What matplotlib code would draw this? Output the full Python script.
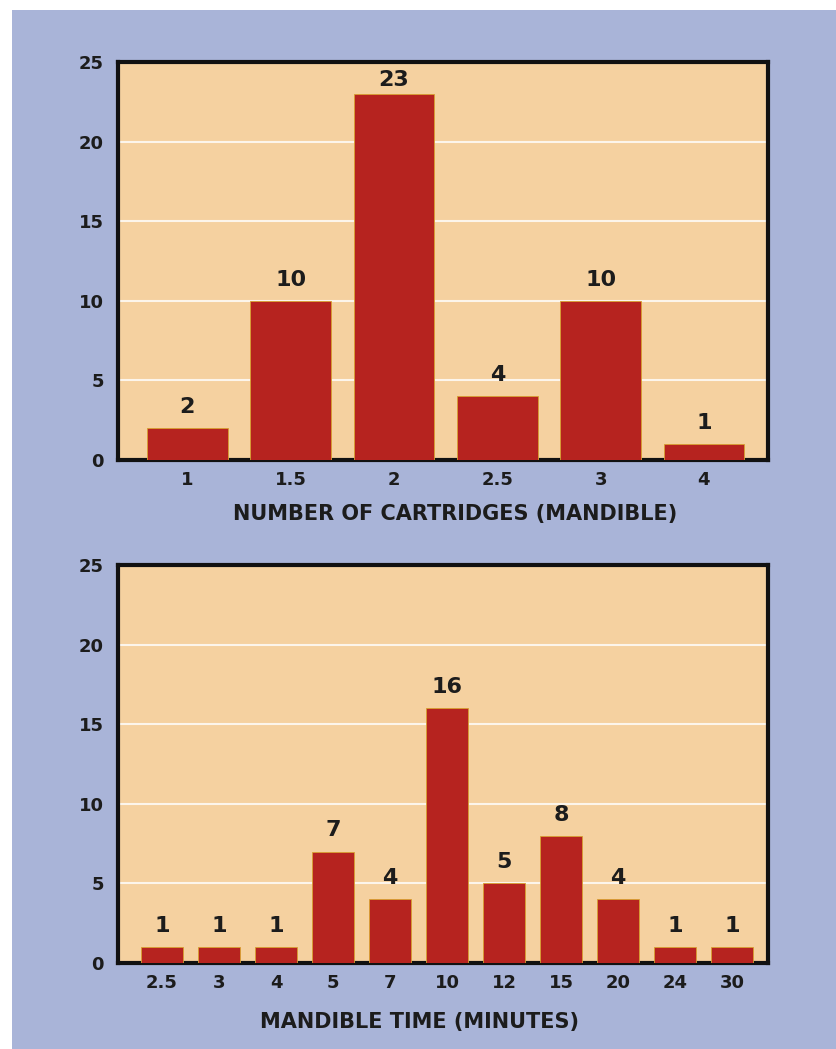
import matplotlib.pyplot as plt
from matplotlib.patches import Rectangle

# data
cart_labels = ['1', '1.5', '2', '2.5', '3', '4']
cart_counts = [2, 10, 23, 4, 10, 1]

time_labels = ['2.5', '3', '4', '5', '7', '10', '12', '15', '20', '24', '30']
time_counts = [1, 1, 1, 7, 4, 16, 5, 8, 4, 1, 1]

plt.rcParams['font.family'] = ['DejaVu Sans']
plt.rcParams['font.weight'] = 'bold'

blue = '#a9b4d8'
peach = '#f5d1a0'
bar_red = '#b6231f'
ink = '#1c1c1c'

fig = plt.figure(figsize=(8.36, 10.49), dpi=100)
fig.patch.set_facecolor('white')
# scanned page: blue background with a white margin at top and left
fig.patches.append(Rectangle((12 / 836, 0), 1, 1 - 10 / 1049, transform=fig.transFigure,
                             facecolor=blue, edgecolor='none', zorder=-10))


def bar_panel(rect, labels, counts, width, xlim, xlabel, xlabel_pos):
    ax = fig.add_axes(rect)
    ax.set_facecolor(peach)
    x = range(len(labels))
    bars = ax.bar(x, counts, width=width, color=bar_red, edgecolor='#d8a030',
                  linewidth=0.6, zorder=3)
    for b, v in zip(bars, counts):
        # the tallest label sits closer to its bar so it stays inside the frame
        off = 8 if v < 22 else 3
        ax.annotate(str(v), (b.get_x() + b.get_width() / 2, v), xytext=(0, off),
                    textcoords='offset points', ha='center', va='bottom',
                    fontsize=16, fontweight='bold', color=ink)
    ax.set_xticks(list(x))
    ax.set_xticklabels(labels)
    ax.set_xlim(*xlim)
    ax.set_ylim(0, 25)
    ax.set_yticks([0, 5, 10, 15, 20, 25])
    ax.tick_params(axis='both', length=0, labelsize=13, colors=ink)
    ax.tick_params(axis='x', pad=8)
    ax.tick_params(axis='y', pad=10)
    ax.yaxis.grid(True, color='white', linewidth=1.5, alpha=0.8, zorder=1)
    ax.set_axisbelow(True)
    for s in ax.spines.values():
        s.set_linewidth(3)
        s.set_color('#111111')
    fig.text(xlabel_pos[0], xlabel_pos[1], xlabel, ha='center', va='center',
             fontsize=15, fontweight='bold', color=ink)
    return ax


bar_panel([118 / 836, 1 - 460 / 1049, 650 / 836, 398 / 1049],
          cart_labels, cart_counts, 0.78, (-0.67, 5.62),
          'NUMBER OF CARTRIDGES (MANDIBLE)', (455 / 836, 1 - 514 / 1049))

bar_panel([118 / 836, 1 - 963 / 1049, 650 / 836, 398 / 1049],
          time_labels, time_counts, 0.75, (-0.77, 10.63),
          'MANDIBLE TIME (MINUTES)', (420 / 836, 1 - 1022 / 1049))

fig.savefig('out.png', dpi=100, facecolor=fig.get_facecolor())
